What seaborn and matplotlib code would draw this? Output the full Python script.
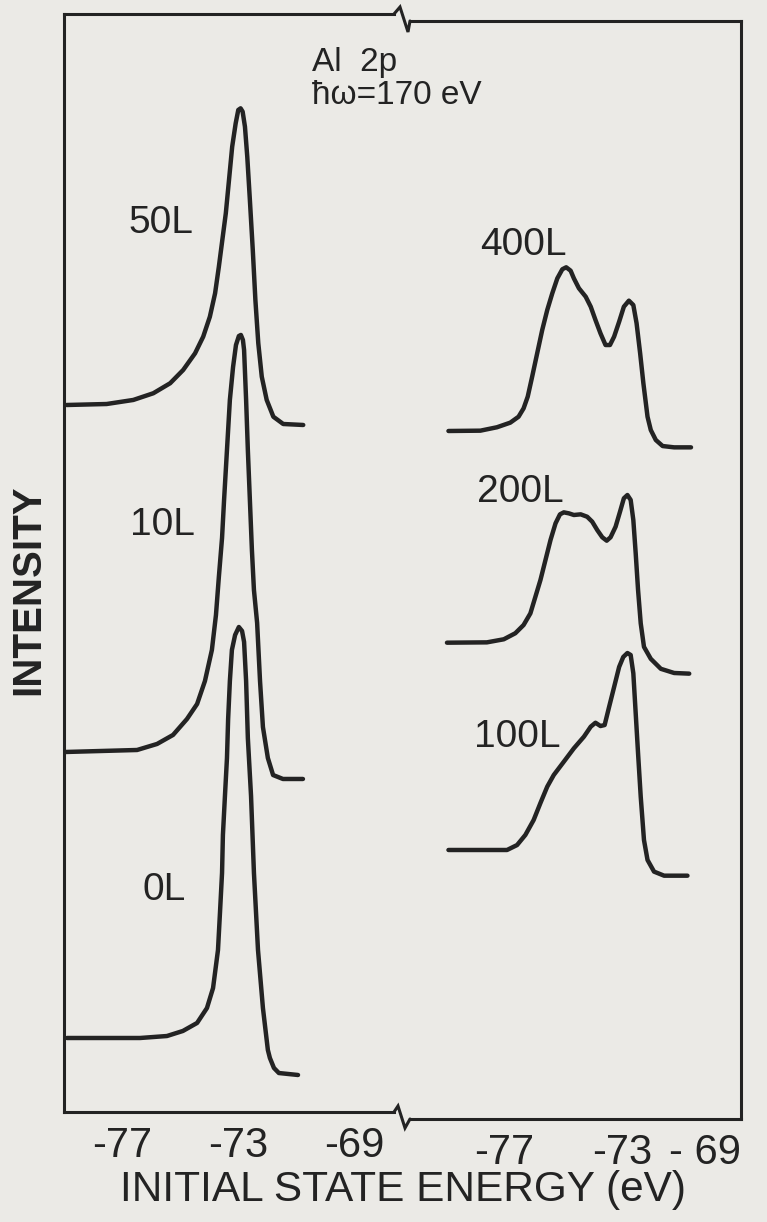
import matplotlib
matplotlib.use('Agg')
import matplotlib.pyplot as plt
from matplotlib.lines import Line2D
import seaborn as sns

# left panel: energy (eV) and stacked intensity (arb. units, 0-100 frame height)
e_0L = [-78.9, -76.38, -75.45, -74.9, -74.41, -74.07, -73.86, -73.69, -73.62, -73.55,
        -73.52, -73.45, -73.38, -73.34, -73.28, -73.21, -73.1, -72.97, -72.86, -72.79,
        -72.72, -72.66, -72.55, -72.45, -72.31, -72.14, -71.97, -71.9, -71.76, -71.59,
        -70.93]
i_0L = [6.74, 6.74, 6.92, 7.38, 8.11, 9.47, 11.29, 14.75, 18.21, 21.77,
        25.23, 28.78, 32.24, 35.79, 39.25, 42.08, 43.44, 44.17, 43.81, 42.81,
        39.25, 34.06, 28.78, 21.77, 14.75, 9.47, 5.65, 4.92, 4.01, 3.55,
        3.37]

e_10L = [-78.93, -76.48, -75.79, -75.24, -74.76, -74.41, -74.14, -73.9, -73.76, -73.66,
         -73.55, -73.48, -73.38, -73.28, -73.17, -73.07, -72.97, -72.9, -72.83, -72.79,
         -72.72, -72.66, -72.59, -72.52, -72.45, -72.34, -72.24, -72.14, -71.97, -71.79,
         -71.45, -70.76]
i_10L = [32.79, 32.97, 33.52, 34.34, 35.79, 37.16, 39.25, 42.08, 45.26, 48.72,
         52.28, 55.74, 60.29, 64.85, 67.85, 69.85, 70.67, 70.77, 70.31, 69.4,
         64.85, 60.29, 55.74, 51.18, 47.54, 44.54, 39.25, 35.06, 32.24, 30.69,
         30.33, 30.33]

e_50L = [-78.91, -77.53, -76.61, -75.92, -75.34, -74.89, -74.48, -74.2, -73.97, -73.79,
         -73.66, -73.54, -73.42, -73.31, -73.2, -73.08, -72.99, -72.91, -72.84, -72.76,
         -72.68, -72.59, -72.49, -72.4, -72.3, -72.18, -72.01, -71.78, -71.44, -70.75]
i_50L = [64.39, 64.48, 64.85, 65.46, 66.37, 67.58, 69.1, 70.61, 72.43, 74.56,
         76.98, 79.42, 81.85, 84.88, 87.92, 90.04, 91.26, 91.41, 91.11, 89.74,
         87.0, 83.06, 78.51, 73.95, 70.01, 66.97, 64.85, 63.32, 62.66, 62.57]

# right panel
e_100L = [-78.89, -76.91, -76.57, -76.29, -76.01, -75.78, -75.55, -75.33, -74.99, -74.65,
          -74.31, -74.08, -73.92, -73.75, -73.61, -73.46, -73.29, -73.12, -72.98, -72.84,
          -72.73, -72.64, -72.56, -72.48, -72.39, -72.28, -72.16, -71.94, -71.6, -70.81]
i_100L = [24.5, 24.5, 24.95, 25.87, 27.23, 28.78, 30.27, 31.33, 32.54, 33.76,
          34.82, 35.73, 36.09, 35.79, 35.88, 37.52, 39.34, 41.17, 42.08, 42.44,
          42.26, 40.59, 36.95, 33.3, 29.35, 25.41, 23.59, 22.53, 22.16, 22.16]

e_200L = [-78.94, -77.59, -77.02, -76.63, -76.35, -76.12, -75.95, -75.78, -75.61, -75.44,
          -75.27, -75.12, -74.99, -74.82, -74.65, -74.42, -74.2, -74.03, -73.86, -73.69,
          -73.54, -73.41, -73.24, -73.09, -72.96, -72.84, -72.73, -72.64, -72.56, -72.48,
          -72.39, -72.28, -72.05, -71.71, -71.26, -70.75]
i_200L = [43.38, 43.41, 43.69, 44.24, 44.99, 46.05, 47.57, 49.09, 50.91, 52.73,
          54.25, 55.07, 55.25, 55.16, 55.01, 55.07, 54.85, 54.4, 53.64, 52.98,
          52.67, 52.98, 53.94, 55.31, 56.53, 56.83, 56.38, 54.55, 51.52, 48.18,
          45.14, 43.0, 41.91, 41.0, 40.62, 40.56]

e_400L = [-78.89, -77.81, -77.25, -76.8, -76.52, -76.35, -76.21, -76.06, -75.89, -75.72,
          -75.55, -75.38, -75.21, -75.04, -74.91, -74.76, -74.65, -74.48, -74.25, -74.08,
          -73.92, -73.75, -73.58, -73.43, -73.29, -73.12, -72.96, -72.79, -72.64, -72.53,
          -72.41, -72.3, -72.16, -72.05, -71.88, -71.65, -71.26, -70.69]
i_400L = [62.66, 62.69, 63.0, 63.42, 63.96, 64.72, 65.79, 67.61, 69.74, 71.86,
          73.68, 75.2, 76.56, 77.39, 77.57, 77.26, 76.56, 75.66, 74.89, 73.98,
          72.77, 71.55, 70.49, 70.49, 71.25, 72.61, 73.98, 74.53, 74.13, 72.47,
          69.74, 67.0, 63.96, 62.75, 61.84, 61.29, 61.17, 61.17]

left_curves = [("0L", e_0L, i_0L, -75.55, 20.2),
               ("10L", e_10L, i_10L, -75.59, 53.5),
               ("50L", e_50L, i_50L, -75.66, 81.0)]
right_curves = [("100L", e_100L, i_100L, -76.56, 34.8),
                ("200L", e_200L, i_200L, -76.46, 57.1),
                ("400L", e_400L, i_400L, -76.36, 79.6)]

left_ticks = [-77, -75, -73, -71, -69]
left_ticklabels = ["-77", "", "-73", "", "-69"]
right_ticks = [-79, -77, -75, -73, -71]
right_ticklabels = ["", "-77", "", "-73", ""]

sns.set_style("white")
plt.rcParams["font.family"] = ["Liberation Sans", "DejaVu Sans"]

BG = "#ebeae6"
INK = "#232323"
W, H = 767, 1222


def px_rect(x0, y0, x1, y1):
    return [x0 / W, 1 - y1 / H, (x1 - x0) / W, (y1 - y0) / H]


fig = plt.figure(figsize=(W / 100, H / 100), dpi=100, facecolor=BG)
ax_l = fig.add_axes(px_rect(64, 14, 394, 1112))
ax_r = fig.add_axes(px_rect(410, 21, 741, 1119))

for ax, curves in [(ax_l, left_curves), (ax_r, right_curves)]:
    ax.set_facecolor(BG)
    for name, e, i, lx, ly in curves:
        sns.lineplot(x=e, y=i, ax=ax, sort=False, estimator=None,
                     color=INK, linewidth=3.2)
        ax.text(lx, ly, name, fontsize=28, color=INK, ha="center", va="center")
    ax.set_ylim(0, 100)
    ax.set_yticks([])
    ax.set_xlabel("")
    ax.set_ylabel("")
    for s in ax.spines.values():
        s.set_color(INK)
        s.set_linewidth(2.2)
    ax.tick_params(axis="x", direction="in", length=14, width=2, color=INK,
                   labelsize=30, labelcolor=INK, pad=10)

ax_l.set_xlim(-79, -67.62)
ax_l.spines["right"].set_visible(False)
ax_l.set_xticks(left_ticks)
ax_l.set_xticklabels(left_ticklabels)

ax_r.set_xlim(-80.19, -69)
ax_r.spines["left"].set_visible(False)
ax_r.set_xticks(right_ticks)
ax_r.set_xticklabels(right_ticklabels)
ax_r.text(-69, -0.0127, "- 69", transform=ax_r.get_xaxis_transform(),
          fontsize=30, color=INK, ha="right", va="top")

# axis break marks
for xs, ys in [([394, 400, 408, 410], [14, 7, 32, 21]),
               ([394, 398, 405, 410], [1112, 1106, 1128, 1119])]:
    fig.add_artist(Line2D([x / W for x in xs], [1 - y / H for y in ys],
                          transform=fig.transFigure, color=INK, lw=2.2,
                          solid_joinstyle="miter"))

fig.text(312 / W, 1 - 63 / H, "Al  2p", fontsize=24, color=INK, ha="left", va="center")
fig.text(312 / W, 1 - 95 / H, "ħω=170 eV", fontsize=24, color=INK, ha="left", va="center")
fig.text(28 / W, 1 - 590 / H, "INTENSITY", fontsize=29, fontweight="bold", color=INK,
         rotation=90, ha="center", va="center")
fig.text(403 / W, 1 - 1190 / H, "INITIAL STATE ENERGY (eV)", fontsize=30.5, color=INK,
         ha="center", va="center")

fig.savefig("out.png", dpi=100, facecolor=BG)
